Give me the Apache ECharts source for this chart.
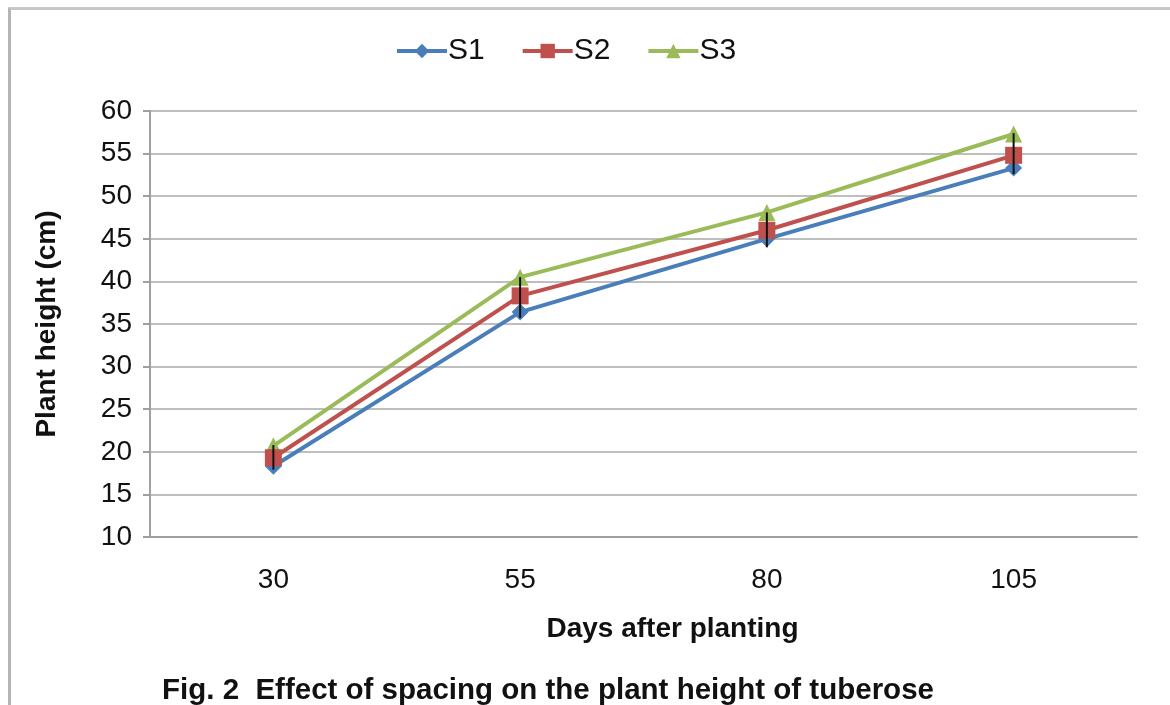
<!DOCTYPE html>
<html>
<head>
<meta charset="utf-8">
<script src="https://cdn.jsdelivr.net/npm/echarts@6/dist/echarts.min.js"></script>
<style>
html,body{margin:0;padding:0;background:#fff;}
#frame{position:absolute;left:8px;top:7px;width:1162px;height:698px;border-left:3px solid #b5b5b5;border-top:3px solid #c8c8c8;box-sizing:border-box;}
#chart{position:absolute;left:0;top:0;width:1170px;height:705px;}
</style>
</head>
<body>
<div id="frame"></div>
<div id="chart"></div>
<script>
const categories = ['30', '55', '80', '105'];
const s1 = [18.3, 36.4, 45.0, 53.3];
const s2 = [19.3, 38.3, 46.0, 54.8];
const s3 = [20.7, 40.5, 48.1, 57.3];
const errLow = [17.9, 35.7, 44.0, 52.6];
const errHigh = [20.8, 40.5, 48.1, 57.4];
const yTicks = [10, 15, 20, 25, 30, 35, 40, 45, 50, 55, 60];

const chart = echarts.init(document.getElementById('chart'), null, {renderer: 'canvas'});
const font = 'Liberation Sans, Arial, sans-serif';

chart.setOption({
  backgroundColor: 'transparent',
  animation: false,
  title: {
    text: 'Fig. 2  Effect of spacing on the plant height of tuberose',
    left: 157, top: 671,
    textStyle: {fontFamily: font, fontSize: 29.5, fontWeight: 'bold', color: '#111'}
  },
  legend: {
    top: 31, left: 390,
    itemWidth: 50, itemHeight: 18, itemGap: 36,
    lineStyle: {width: 4},
    textStyle: {fontFamily: font, fontSize: 30, color: '#111', padding: [0, 0, 0, -4]},
    data: ['S1', 'S2', 'S3']
  },
  grid: {left: 150, right: 33, top: 111, bottom: 168},
  xAxis: {
    type: 'category',
    data: categories,
    boundaryGap: true,
    name: 'Days after planting',
    nameLocation: 'middle',
    nameGap: 78,
    nameTextStyle: {fontFamily: font, fontSize: 28, fontWeight: 'bold', color: '#111', padding: [0, 0, 0, 58]},
    axisLine: {lineStyle: {color: '#a0a0a0', width: 2}},
    axisTick: {show: false},
    axisLabel: {fontFamily: font, fontSize: 28, color: '#111', margin: 29}
  },
  yAxis: {
    type: 'value',
    min: 10, max: 60, interval: 5,
    name: 'Plant height (cm)',
    nameLocation: 'middle',
    nameGap: 89,
    nameTextStyle: {fontFamily: font, fontSize: 28, fontWeight: 'bold', color: '#111'},
    axisLine: {show: true, lineStyle: {color: '#a0a0a0', width: 2}},
    axisTick: {show: true, length: 7, lineStyle: {color: '#a0a0a0', width: 2}},
    axisLabel: {fontFamily: font, fontSize: 28, color: '#111', margin: 18},
    splitLine: {lineStyle: {color: '#a8a8a8', width: 1.5}}
  },
  series: [
    {name: 'S1', type: 'line', data: s1, symbol: 'diamond', symbolSize: 17,
     lineStyle: {color: '#4a7ebb', width: 4}, itemStyle: {color: '#4a7ebb'}, z: 3},
    {name: 'S2', type: 'line', data: s2, symbol: 'rect', symbolSize: 17,
     lineStyle: {color: '#c0504d', width: 4}, itemStyle: {color: '#c0504d'}, z: 4},
    {name: 'S3', type: 'line', data: s3, symbol: 'triangle', symbolSize: 17,
     lineStyle: {color: '#9bbb59', width: 4}, itemStyle: {color: '#9bbb59'}, z: 2},
    {name: 'err', type: 'custom', z: 10, silent: true,
     data: categories.map((c, i) => [i, errLow[i], errHigh[i]]),
     renderItem: function (params, api) {
       const lo = api.coord([api.value(0), api.value(1)]);
       const hi = api.coord([api.value(0), api.value(2)]);
       return {type: 'line', shape: {x1: lo[0], y1: lo[1], x2: hi[0], y2: hi[1]},
               style: {stroke: '#111', lineWidth: 2}};
     }}
  ]
});
</script>
</body>
</html>
